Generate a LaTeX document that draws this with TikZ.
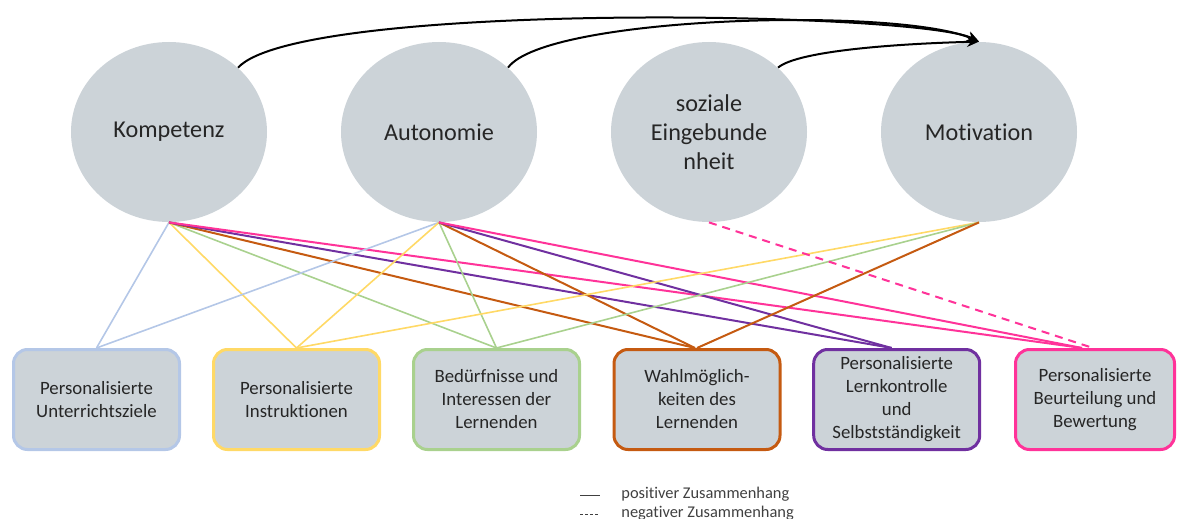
\documentclass[tikz,border=0pt]{standalone}
\usepackage{fontspec}
\setmainfont{Carlito}[Ligatures={NoCommon}]
\usetikzlibrary{shapes.geometric,arrows.meta}
\definecolor{fillg}{RGB}{204,211,216}
\definecolor{cblue}{RGB}{180,199,231}
\definecolor{cyel}{RGB}{255,217,102}
\definecolor{cgreen}{RGB}{169,209,142}
\definecolor{corange}{RGB}{197,90,17}
\definecolor{cpurple}{RGB}{112,48,160}
\definecolor{cpink}{RGB}{255,51,153}
\definecolor{txt}{RGB}{38,38,38}
\definecolor{legtxt}{RGB}{64,64,64}
\begin{document}
\begin{tikzpicture}[x=0.5pt,y=-0.5pt,
  circ/.style={ellipse, fill=fillg, minimum width=98pt, minimum height=90pt, inner sep=0pt, align=center, text=txt, font=\fontsize{12.1}{14.6}\selectfont},
  boxn/.style={draw=#1, line width=1.5pt, rounded corners=7pt, fill=fillg, minimum width=83pt, minimum height=50pt, inner sep=0pt, align=center, text=txt, font=\fontsize{9.4}{11.5}\selectfont},
  lnthin/.style={draw=#1, line width=0.8pt},
  lnthick/.style={draw=#1, line width=1pt},
  arr/.style={line width=1pt, -{Stealth[length=6pt,width=5pt]}},
  legtext/.style={anchor=west, inner sep=0pt, text=legtxt, font=\fontsize{8.2}{9}\selectfont}
]
\useasboundingbox (0,0) rectangle (1178,519);

% ellipses
\node[circ] (K) at (169,132) {Kompetenz};
\node[circ] (A) at (439,132) {Autonomie};
\node[circ] (S) at (709,132) {soziale\\Eingebunde\\nheit};
\node[circ] (M) at (979,132) {Motivation};

% boxes
\node[boxn=cblue]   (b1) at (96.5,399.5) {Personalisierte\\Unterrichtsziele};
\node[boxn=cyel]    (b2) at (296.5,399.5) {Personalisierte\\Instruktionen};
\node[boxn=cgreen]  (b3) at (496.5,399.5) {Bedürfnisse und\\Interessen der\\Lernenden};
\node[boxn=corange] (b4) at (697,399.5) {Wahlmöglich-\\keiten des\\Lernenden};
\node[boxn=cpurple] (b5) at (896.7,399.5) {Personalisierte\\Lernkontrolle\\und\\Selbstständigkeit};
\node[boxn=cpink, minimum width=79.5pt] (b6) at (1095,399.5) {Personalisierte\\Beurteilung und\\Bewertung};

% arrows on top
\draw[arr] (K.43) .. controls +(62,-67) and +(-60,-30) .. (M.north);
\draw[arr] (A.43) .. controls +(38,-52) and +(-80,-35) .. (M.north);
\draw[arr] (S.43) .. controls +(20,-17) and +(-80,2) .. (M.north);

% connectors from Kompetenz
\draw[lnthin=cblue]   (K.south) -- (b1.north);
\draw[lnthin=cyel]    (K.south) -- (b2.north);
\draw[lnthin=cgreen]  (K.south) -- (b3.north);
\draw[lnthick=corange] (K.south) -- ([xshift=-1pt]b4.north);
\draw[lnthick=cpurple] (K.south) -- ([xshift=-2.5pt]b5.north);
\draw[lnthick=cpink]   (K.south) -- ([xshift=-6.5pt]b6.north);
% connectors from Autonomie
\draw[lnthin=cblue]   (A.south) -- (b1.north);
\draw[lnthin=cyel]    (A.south) -- (b2.north);
\draw[lnthin=cgreen]  (A.south) -- (b3.north);
\draw[lnthick=corange] (A.south) -- ([xshift=-1pt]b4.north);
\draw[lnthick=cpurple] (A.south) -- ([xshift=-2.5pt]b5.north);
\draw[lnthick=cpink]   (A.south) -- ([xshift=-6.5pt]b6.north);
% connectors from Motivation
\draw[lnthin=cyel]    (M.south) -- (b2.north);
\draw[lnthin=cgreen]  (M.south) -- (b3.north);
\draw[lnthick=corange] (M.south) -- (b4.north);
% negative connector
\draw[lnthick=cpink, dash pattern=on 4pt off 3pt] (S.south) -- ([xshift=-1pt]b6.north);

% legend
\coordinate (l1a) at (580,495);
\coordinate (l1b) at (600,495);
\coordinate (l2a) at (580,514);
\coordinate (l2b) at (600,514);
\draw[legtxt, line width=0.5pt] (l1a) -- (l1b);
\draw[legtxt, line width=0.5pt, dash pattern=on 1.5pt off 1pt] (l2a) -- (l2b);
\node[legtext] (t1) at (621,494) {positiver Zusammenhang};
\node[legtext] (t2) at (621,513) {negativer Zusammenhang};
\end{tikzpicture}
\end{document}
